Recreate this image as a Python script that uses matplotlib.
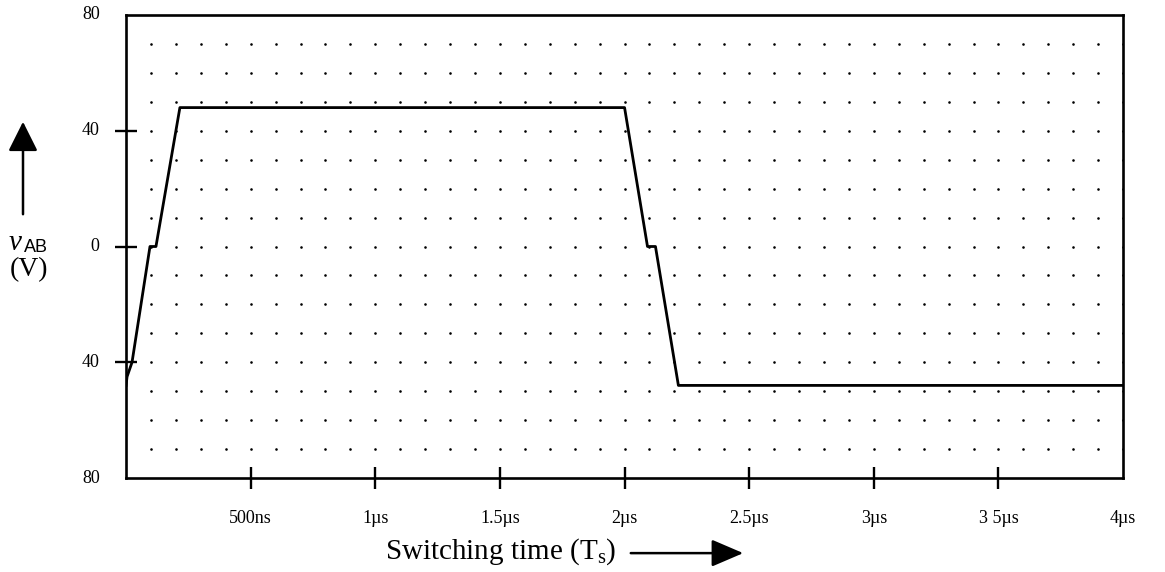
import numpy as np
import matplotlib
matplotlib.use('Agg')
import matplotlib.pyplot as plt

# waveform v_AB over one switching period (time in us, voltage in V)
t_us = [0.0, 0.004, 0.024, 0.096, 0.120, 0.216, 2.0, 2.092, 2.124, 2.216, 4.0]
v_ab = [-48, -45, -40, 0, 0, 48, 48, 0, 0, -48, -48]

xticks = [0.5, 1.0, 1.5, 2.0, 2.5, 3.0, 3.5, 4.0]
xtick_labels = ['500ns', '1µs', '1.5µs', '2µs', '2.5µs', '3µs', '3 5µs', '4µs']
yticks = [-80, -40, 0, 40, 80]
ytick_labels = ['80', '40', '0', '40', '80']

# dotted background grid (100 ns x 10 V)
dot_t = np.arange(1, 41) * 0.1
dot_v = np.arange(-7, 8) * 10.0

plt.rcParams['font.family'] = ['Liberation Serif', 'DejaVu Serif']

fig = plt.figure(figsize=(11.65, 5.72), dpi=100)
ax = fig.add_axes([0.1082, 0.1643, 0.9640 - 0.1082, 0.9738 - 0.1643])

tt, vv = np.meshgrid(dot_t, dot_v)
ax.scatter(tt.ravel(), vv.ravel(), s=3.5, c='k', marker='o', linewidths=0, zorder=1)

ax.plot(t_us, v_ab, c='k', lw=2.0, zorder=3)

ax.set_xlim(0, 4)
ax.set_ylim(-80, 80)
for sp in ax.spines.values():
	sp.set_linewidth(1.9)

ax.set_xticks(xticks[:-1])
ax.set_xticklabels([])
ax.set_yticks([-40, 0, 40])
ax.set_yticklabels([])
ax.tick_params(axis='x', direction='inout', length=16, width=1.7)
ax.tick_params(axis='y', direction='inout', length=16, width=1.7)

# tick labels as plain text so the corner ones can sit on the frame
for x, lab in zip(xticks, xtick_labels):
	ax.annotate(lab, xy=(x, 0), xycoords=('data', 'axes fraction'), xytext=(0, -29),
		textcoords='offset points', ha='center', va='center', fontsize=13)
for y, lab in zip(yticks, ytick_labels):
	ax.annotate(lab, xy=(0, y), xycoords=('axes fraction', 'data'), xytext=(-19, 0),
		textcoords='offset points', ha='right', va='center', fontsize=13)

fig.text(0.430, 0.035, 'Switching time (T$_\\mathregular{s}$)', ha='center', va='center', fontsize=21)
fig.add_artist(matplotlib.patches.FancyArrowPatch((628 / 1165, 0.033), (746 / 1165, 0.033),
	transform=fig.transFigure, arrowstyle='-|>,head_length=1.4,head_width=0.6',
	mutation_scale=14, lw=1.8, color='k'))

fig.add_artist(matplotlib.patches.FancyArrowPatch((23 / 1165, 1 - 217 / 572), (23 / 1165, 1 - 119 / 572),
	transform=fig.transFigure, arrowstyle='-|>,head_length=1.3,head_width=0.65',
	mutation_scale=14, lw=1.8, color='k'))
fig.text(0.0075, 1 - 243 / 572, 'v', ha='left', va='center', fontsize=21, style='italic')
fig.text(0.0205, 1 - 248 / 572, 'AB', ha='left', va='center', fontsize=13, family='Liberation Sans')
fig.text(0.0085, 1 - 270 / 572, '(V)', ha='left', va='center', fontsize=20)

fig.savefig('out.png', dpi=100)
